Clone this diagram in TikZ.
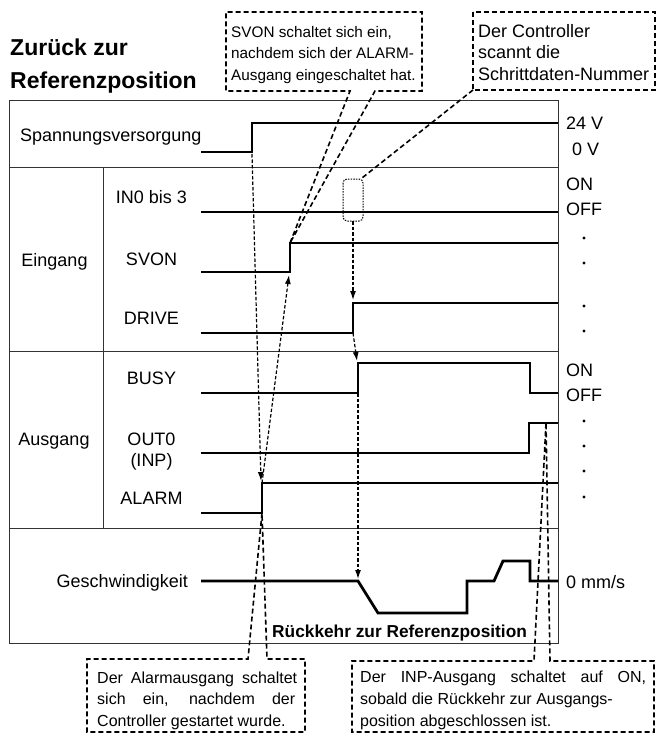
\documentclass[tikz,border=0pt]{standalone}
\usepackage{fontspec}
\setmainfont{Liberation Sans}
\usetikzlibrary{arrows.meta,calc}
\begin{document}
\begin{tikzpicture}[x=1pt,y=-1pt,
  sig/.style={line width=2.8pt, line join=miter, line cap=butt},
  frameline/.style={line width=1pt, draw=black!80},
  callout/.style={line width=1.6pt, dash pattern=on 5pt off 3pt, line join=miter},
  fine/.style={line width=1.2pt, dash pattern=on 3.5pt off 2pt},
  arr/.style={fine, -{Latex[length=9pt,width=6pt]}},
  lab/.style={inner sep=0pt, font=\fontsize{18}{21}\selectfont},
  small/.style={inner sep=0pt, font=\fontsize{16}{19}\selectfont},
  smaller/.style={inner sep=0pt, font=\fontsize{15.3}{18}\selectfont},
  title/.style={inner sep=0pt, font=\fontsize{23}{27}\selectfont\bfseries},
  dot/.style={circle, fill=black, inner sep=0pt, minimum size=3.4pt}
]
\useasboundingbox (0,0) rectangle (657,734);

% ---------- frame ----------
\draw[frameline] (9,100) rectangle (558,643);
\draw[frameline] (9,167) -- (558,167);
\draw[frameline] (9,351) -- (558,351);
\draw[frameline] (9,528) -- (558,528);
\draw[frameline] (103,167) -- (103,528);

% ---------- title ----------
\node[title, anchor=base west] (tt1) at (10,55) {Zurück zur};
\node[title, anchor=base west] (tt2) at (10,88) {Referenzposition};

% ---------- row labels ----------
\node[lab, anchor=base west] (lPwr) at (20,141.5) {Spannungsversorgung};
\node[lab, anchor=base] (lEin) at (54.5,266) {Eingang};
\node[lab, anchor=base] (lAus) at (54,445) {Ausgang};
\node[lab, anchor=base] (lIn) at (151.5,203) {IN0 bis 3};
\node[lab, anchor=base] (lSv) at (151.5,265) {SVON};
\node[lab, anchor=base] (lDr) at (151.5,324) {DRIVE};
\node[lab, anchor=base] (lBu) at (151.5,384) {BUSY};
\node[lab, anchor=base] (lOu) at (151.5,445) {OUT0};
\node[lab, anchor=base] (lIp) at (151.5,466) {(INP)};
\node[lab, anchor=base] (lAl) at (151.5,504) {ALARM};
\node[lab, anchor=base east] (lGe) at (188,587) {Geschwindigkeit};

% ---------- right labels ----------
\node[lab, anchor=base west] (r24) at (566,129) {24 V};
\node[lab, anchor=base west] (r0) at (572,155) {0 V};
\node[lab, anchor=base west] (rOn1) at (566,190) {ON};
\node[lab, anchor=base west] (rOff1) at (566,215) {OFF};
\node[lab, anchor=base west] (rOn2) at (566,376) {ON};
\node[lab, anchor=base west] (rOff2) at (566,401) {OFF};
\node[lab, anchor=base west] (rMm) at (566,588) {0 mm/s};
\foreach \yy [count=\i] in {238,263,306,331,421,446,471,497}
  \node[dot] (d\i) at (584,\yy) {};

% ---------- signal corners ----------
\coordinate (pwrL) at (252,152);  \coordinate (pwrH) at (252,123);
\coordinate (svL) at (290,272);   \coordinate (svH) at (290,243);
\coordinate (drL) at (353,333);   \coordinate (drH) at (353,303);
\coordinate (buL) at (358,393);   \coordinate (buH) at (358,363);
\coordinate (alL) at (262,513);   \coordinate (alH) at (262,483);
\coordinate (ouH) at (546,423);
\coordinate (spS) at (358,581);

% ---------- signals ----------
\draw[sig] (201,152) -- (pwrL) -- (pwrH) -- (558,123);
\draw[sig] (201,212) -- (558,212);
\draw[sig] (201,272) -- (svL) -- (svH) -- (558,243);
\draw[sig] (201,333) -- (drL) -- (drH) -- (558,303);
\draw[sig] (201,393) -- (buL) -- (buH) -- (530,363) -- (530,393) -- (558,393);
\draw[sig] (201,453) -- (529,453) -- (529,423) -- (558,423);
\draw[sig] (201,513) -- (alL) -- (alH) -- (558,483);
\draw[sig] (201,581) -- (spS) -- (378,613) -- (467,613) -- (467,581) -- (494,581)
  -- (503,561) -- (530,561) -- (530,581) -- (558,581);

\node[inner sep=0pt, anchor=base west, font=\fontsize{17.3}{20}\selectfont\bfseries] (lRk) at (272,637) {Rückkehr zur Referenzposition};

% ---------- fine dashed arrows ----------
\draw[arr] ($(pwrL)+(0,2)$) -- (261,481);
\draw[arr] (alH) -- (289,275);
\draw[line width=1pt, dash pattern=on 1.5pt off 1.2pt, rounded corners=4pt] (343,179) rectangle (363,221);
\coordinate (scanB) at (353,221);
\draw[arr] (scanB) -- (353,300);
\draw[arr] (drL) -- (357,361);
\draw[arr] (buL) -- (358,579);

% ---------- callouts ----------
\draw[callout] (svH) -- (350,91) -- (226,91) -- (226,12) -- (422,12) -- (422,91) -- (375,91) -- cycle;
\node[smaller, anchor=base west] (c1a) at (231,37) {SVON schaltet sich ein,};
\node[smaller, anchor=base west] (c1b) at (231,58.5) {nachdem sich der ALARM-};
\node[smaller, anchor=base west] (c1c) at (231,80) {Ausgang eingeschaltet hat.};

\draw[callout] (473,12) rectangle (655,90);
\draw[callout] (473,90) -- (362,178);
\node[lab, anchor=base west] (c2a) at (478,37) {Der Controller};
\node[lab, anchor=base west] (c2b) at (478,58.5) {scannt die};
\node[lab, anchor=base west] (c2c) at (478,80) {Schrittdaten-Nummer};

\draw[callout] (alL) -- (248,659) -- (87,659) -- (87,732) -- (305,732) -- (305,659) -- (267,659) -- cycle;
\node[small, anchor=base west] (c3a) at (97,683) {\makebox[200pt][s]{Der Alarmausgang schaltet}};
\node[small, anchor=base west] (c3b) at (97,704.5) {\makebox[198pt][s]{sich ein, nachdem der}};
\node[small, anchor=base west] (c3c) at (97,726) {Controller gestartet wurde.};

\draw[callout] (ouH) -- (534,661) -- (352,661) -- (352,732) -- (654,732) -- (654,661) -- (550,661) -- cycle;
\node[small, anchor=base west] (c4a) at (360,682) {\makebox[286pt][s]{Der INP-Ausgang schaltet auf ON,}};
\node[small, anchor=base west] (c4b) at (360,704) {sobald die Rückkehr zur Ausgangs-};
\node[small, anchor=base west] (c4c) at (360,726) {position abgeschlossen ist.};
\end{tikzpicture}
\end{document}
